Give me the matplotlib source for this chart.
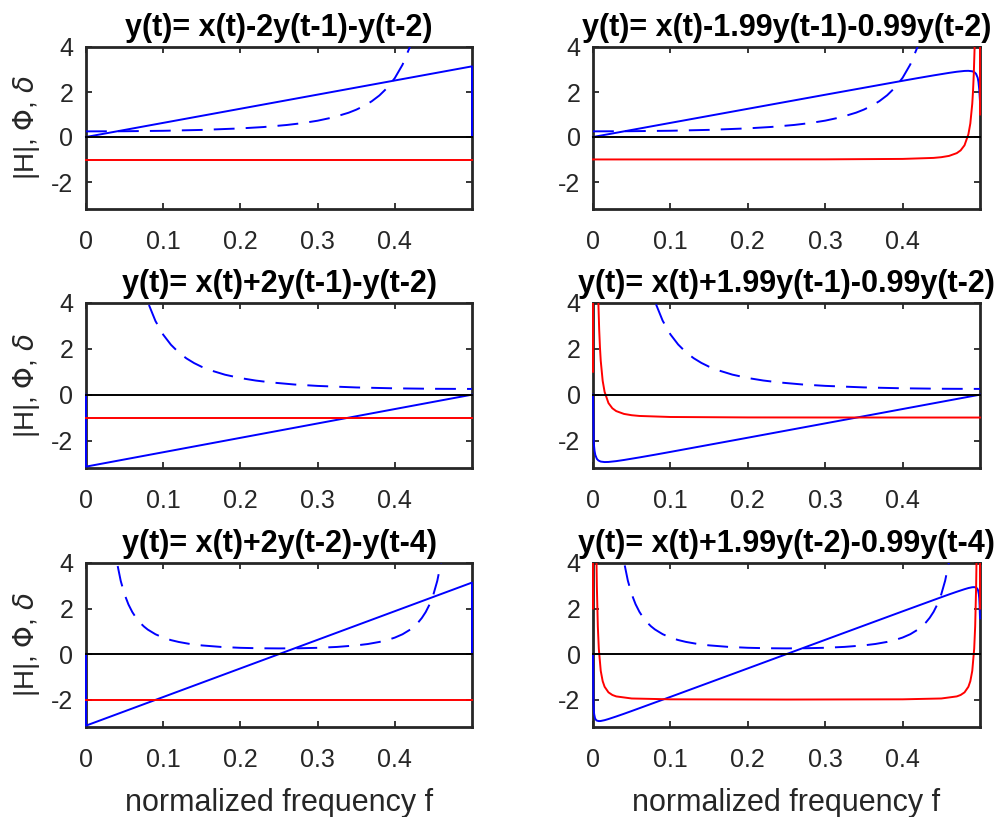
import matplotlib
matplotlib.use("Agg")
import matplotlib.pyplot as plt
from matplotlib.patches import Rectangle

plt.rcParams["font.family"] = ["Liberation Sans", "DejaVu Sans"]
plt.rcParams["axes.unicode_minus"] = False
plt.rcParams["lines.scale_dashes"] = False

# ---- panel titles (filter equations) ----
titles = [
    "y(t)= x(t)-2y(t-1)-y(t-2)",
    "y(t)= x(t)-1.99y(t-1)-0.99y(t-2)",
    "y(t)= x(t)+2y(t-1)-y(t-2)",
    "y(t)= x(t)+1.99y(t-1)-0.99y(t-2)",
    "y(t)= x(t)+2y(t-2)-y(t-4)",
    "y(t)= x(t)+1.99y(t-2)-0.99y(t-4)",
]

# ---- panel 1 ----
f_mag1 = [0, 0.05, 0.1, 0.15, 0.2, 0.23, 0.26, 0.28, 0.30, 0.32, 0.34, 0.35,
          0.36, 0.37, 0.38, 0.39, 0.40, 0.41, 0.42, 0.43]
mag1 = [0.25, 0.256, 0.276, 0.315, 0.382, 0.443, 0.534, 0.615, 0.724, 0.871,
        1.077, 1.213, 1.379, 1.585, 1.845, 2.179, 2.618, 3.212, 4.042, 5.253]
f_ph1 = [0, 0.5, 0.5]
ph1 = [0, 3.14, 0]
f_gd1 = [0, 0.5]
gd1 = [-1, -1]

# ---- panel 2 ----
f_mag2 = f_mag1
mag2 = [0.251, 0.258, 0.278, 0.317, 0.384, 0.446, 0.536, 0.618, 0.727, 0.875,
        1.083, 1.219, 1.386, 1.593, 1.854, 2.190, 2.631, 3.228, 4.062, 5.28]
f_ph2 = [0, 0.1, 0.2, 0.3, 0.4, 0.42, 0.44, 0.46, 0.47, 0.48, 0.485, 0.49,
         0.493, 0.495, 0.497, 0.498, 0.499, 0.5]
ph2 = [0, 0.627, 1.253, 1.878, 2.498, 2.620, 2.738, 2.850, 2.900, 2.936,
       2.941, 2.920, 2.873, 2.801, 2.633, 2.454, 2.123, 1.571]
f_gd2 = [0, 0.1, 0.2, 0.3, 0.4, 0.44, 0.45, 0.46, 0.47, 0.475, 0.48, 0.485,
         0.4875, 0.49, 0.491, 0.492, 0.493, 0.494, 0.4965, 0.499, 0.5]
gd2 = [-0.998, -0.997, -0.996, -0.993, -0.974, -0.929, -0.897, -0.840, -0.717,
       -0.594, -0.368, 0.119, 0.603, 1.48, 2.05, 2.83, 3.94, 5.6, 16.2, 70.5, 1.0]

# ---- panel 3 ----
f_mag3 = [0.07, 0.08, 0.09, 0.10, 0.11, 0.12, 0.13, 0.14, 0.15, 0.16, 0.18,
          0.20, 0.22, 0.24, 0.27, 0.30, 0.35, 0.40, 0.45, 0.5]
mag3 = [5.253, 4.042, 3.212, 2.618, 2.179, 1.845, 1.585, 1.379, 1.213, 1.077,
        0.871, 0.724, 0.615, 0.534, 0.443, 0.382, 0.315, 0.276, 0.256, 0.25]
f_ph3 = [0, 0, 0.5]
ph3 = [0, -3.14, 0]
f_gd3 = [0, 0.5]
gd3 = [-1, -1]

# ---- panel 4 ----
f_mag4 = f_mag3
mag4 = [5.28, 4.062, 3.228, 2.631, 2.190, 1.854, 1.593, 1.386, 1.219, 1.083,
        0.875, 0.727, 0.618, 0.536, 0.446, 0.384, 0.317, 0.278, 0.258, 0.251]
f_ph4 = [0, 0.001, 0.002, 0.003, 0.005, 0.007, 0.01, 0.015, 0.02, 0.03, 0.04,
         0.06, 0.08, 0.1, 0.2, 0.3, 0.4, 0.5]
ph4 = [0, -2.123, -2.454, -2.633, -2.801, -2.873, -2.920, -2.941, -2.936,
       -2.900, -2.850, -2.738, -2.620, -2.498, -1.878, -1.253, -0.627, 0]
f_gd4 = [0, 0.001, 0.0035, 0.006, 0.007, 0.008, 0.009, 0.01, 0.0125, 0.015,
         0.02, 0.025, 0.03, 0.04, 0.05, 0.06, 0.1, 0.2, 0.3, 0.4, 0.5]
gd4 = [1.0, 70.5, 16.2, 5.6, 3.94, 2.83, 2.05, 1.48, 0.603, 0.119, -0.368,
       -0.594, -0.717, -0.840, -0.897, -0.929, -0.974, -0.993, -0.996, -0.997,
       -0.998]

# ---- panel 5 ----
f_mag5 = [0.035, 0.04, 0.045, 0.05, 0.055, 0.06, 0.065, 0.07, 0.075, 0.08,
          0.09, 0.10, 0.11, 0.12, 0.135, 0.15, 0.175, 0.2, 0.225, 0.25,
          0.275, 0.3, 0.325, 0.35, 0.365, 0.38, 0.39, 0.40, 0.41, 0.42,
          0.425, 0.43, 0.435, 0.44, 0.445, 0.45, 0.455, 0.46, 0.465]
mag5 = [5.253, 4.042, 3.212, 2.618, 2.179, 1.845, 1.585, 1.379, 1.213, 1.077,
        0.871, 0.724, 0.615, 0.534, 0.443, 0.382, 0.315, 0.276, 0.256, 0.25,
        0.256, 0.276, 0.315, 0.382, 0.443, 0.534, 0.615, 0.724, 0.871, 1.077,
        1.213, 1.379, 1.585, 1.845, 2.179, 2.618, 3.212, 4.042, 5.253]
f_ph5 = [0, 0, 0.5, 0.5]
ph5 = [0, -3.14, 3.14, 0]
f_gd5 = [0, 0.5]
gd5 = [-2, -2]

# ---- panel 6 ----
f_mag6 = f_mag5
mag6 = [5.28, 4.062, 3.228, 2.631, 2.190, 1.854, 1.593, 1.386, 1.219, 1.083,
        0.875, 0.727, 0.618, 0.536, 0.446, 0.384, 0.317, 0.278, 0.258, 0.251,
        0.258, 0.278, 0.317, 0.384, 0.446, 0.536, 0.618, 0.727, 0.875, 1.083,
        1.219, 1.386, 1.593, 1.854, 2.190, 2.631, 3.228, 4.062, 5.28]
f_ph6 = [0, 0.0005, 0.001, 0.0015, 0.0025, 0.0035, 0.005, 0.0075, 0.01, 0.015,
         0.02, 0.03, 0.04, 0.05, 0.1, 0.15, 0.2, 0.25, 0.3, 0.35, 0.4, 0.45,
         0.46, 0.47, 0.48, 0.485, 0.49, 0.4925, 0.495, 0.4965, 0.4975, 0.4985,
         0.499, 0.4995, 0.5]
ph6 = [0, -2.123, -2.454, -2.633, -2.801, -2.873, -2.920, -2.941, -2.936,
       -2.900, -2.850, -2.738, -2.620, -2.498, -1.878, -1.253, -0.627, 0,
       0.627, 1.253, 1.878, 2.498, 2.620, 2.738, 2.850, 2.900, 2.936, 2.941,
       2.920, 2.873, 2.801, 2.633, 2.454, 2.123, 1.571]
f_gd6 = [0, 0.0005, 0.00175, 0.003, 0.0035, 0.004, 0.0045, 0.005, 0.00625,
         0.0075, 0.01, 0.0125, 0.015, 0.02, 0.025, 0.03, 0.05, 0.1, 0.25,
         0.4, 0.45, 0.47, 0.475, 0.48, 0.485, 0.4875, 0.49, 0.4925, 0.49375,
         0.495, 0.4955, 0.496, 0.4965, 0.497, 0.49825, 0.4995, 0.5]
gd6 = [2.0, 141, 32.4, 11.2, 7.88, 5.66, 4.10, 2.96, 1.21, 0.238, -0.736,
       -1.188, -1.434, -1.68, -1.794, -1.857, -1.948, -1.985, -1.995,
       -1.985, -1.948, -1.857, -1.794, -1.68, -1.434, -1.188, -0.736, 0.238,
       1.21, 2.96, 4.10, 5.66, 7.88, 11.2, 32.4, 141, 2.0]

panels = [
    (f_mag1, mag1, f_ph1, ph1, f_gd1, gd1),
    (f_mag2, mag2, f_ph2, ph2, f_gd2, gd2),
    (f_mag3, mag3, f_ph3, ph3, f_gd3, gd3),
    (f_mag4, mag4, f_ph4, ph4, f_gd4, gd4),
    (f_mag5, mag5, f_ph5, ph5, f_gd5, gd5),
    (f_mag6, mag6, f_ph6, ph6, f_gd6, gd6),
]

xticks = [0, 0.1, 0.2, 0.3, 0.4]
xticklabels = ["0", "0.1", "0.2", "0.3", "0.4"]
yticks = [-2, 0, 2, 4]

W, H = 997, 817
fig = plt.figure(figsize=(W / 100, H / 100), dpi=100)

col_x = [(86, 472), (593, 980)]
row_y = [(47, 209), (303, 468), (563, 727)]
dark = "#262626"

for i, (fm, m, fp, p, fg, g) in enumerate(panels):
    r, c = divmod(i, 2)
    x0, x1 = col_x[c]
    y0, y1 = row_y[r]
    ax = fig.add_axes([x0 / W, 1 - y1 / H, (x1 - x0) / W, (y1 - y0) / H])

    clip = Rectangle((-0.01, 0), 1.02, 1, transform=ax.transAxes)
    lines = []
    lines += ax.plot(fm, m, color="blue", lw=1.4, dashes=(15, 8))
    lines += ax.plot(fp, p, color="blue", lw=1.4)
    lines += ax.plot(fg, g, color="red", lw=1.4)
    lines += ax.plot([0, 0.5], [0, 0], color="black", lw=1.4)
    for ln in lines:
        ln.set_zorder(3)
        ln.set_clip_path(clip)

    ax.set_xlim(0, 0.5)
    ax.set_ylim(-3.2, 4)
    ax.set_xticks(xticks)
    ax.set_xticklabels(xticklabels)
    ax.set_yticks(yticks)
    ax.tick_params(direction="in", top=True, right=True, length=4.5,
                   width=1.3, color=dark, labelcolor=dark, labelsize=18)
    ax.tick_params(axis="x", pad=15)
    ax.tick_params(axis="y", pad=9)
    for s in ax.spines.values():
        s.set_linewidth(2.0)
        s.set_color(dark)

    ax.set_title(titles[i], fontsize=22, fontweight="bold", pad=8)
    if c == 0:
        ax.set_ylabel(r"|H|, $\Phi$, $\delta$", fontsize=20, color=dark)
        ax.yaxis.set_label_coords(-0.115, 0.5)
    if r == 2:
        ax.set_xlabel("normalized frequency f", fontsize=22, color=dark)
        ax.xaxis.set_label_coords(0.5, -0.37)

fig.savefig("out.png", dpi=100)
